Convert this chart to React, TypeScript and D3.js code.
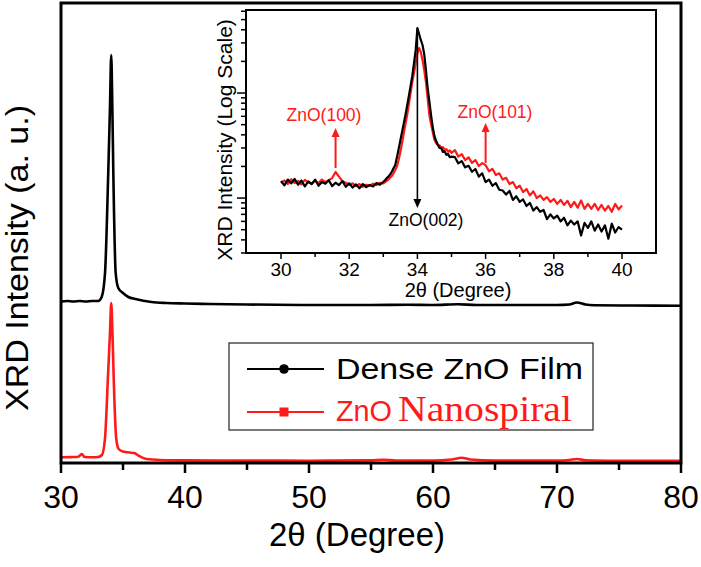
import React from "react";
import * as d3 from "d3";

// ---------- Main panel data (2θ, intensity a.u.) ----------
const mainBlackX = [30, 30.5, 31, 31.5, 32, 32.5, 33.0, 33.28, 33.55, 33.81, 33.95, 34.05, 34.14, 34.22, 34.41, 34.62, 35.0, 35.43, 36.0, 37.3, 38.5, 40, 42, 45, 50, 55, 58, 60, 62, 63.5, 66, 70, 71, 71.6, 72.3, 73, 76, 80];
const mainBlackY = [161.5, 162, 161.5, 162, 161.5, 162, 162, 166, 190, 290, 356, 408, 356, 290, 190, 175, 170, 166, 164, 161, 160, 159.5, 159, 158.5, 158, 158, 158.3, 158, 158.8, 158, 158, 158, 158.5, 160.5, 158.5, 157.8, 157.5, 157.3];
const mainRedX = [30, 30.8, 31.4, 31.67, 31.9, 32.5, 33.0, 33.3, 33.55, 33.8, 33.95, 34.05, 34.15, 34.25, 34.45, 34.65, 35.0, 35.5, 35.9, 36.3, 36.9, 38, 40, 45, 50, 55, 56, 57, 60, 61.5, 62.3, 63, 65, 70, 71, 71.6, 72.3, 75, 80];
const mainRedY = [5.7, 5.9, 6.2, 9, 6, 5.7, 6, 8, 25, 90, 130, 160, 130, 85, 25, 14, 11.5, 10.5, 10, 7, 4, 3, 2.6, 2.4, 2.3, 2.6, 3.3, 2.5, 2.4, 3.5, 5.3, 3.5, 2.4, 2.4, 3, 4, 2.8, 2.3, 2.2];
const mainXTicks = [30, 40, 50, 60, 70, 80];
const mainXMinor = [35, 45, 55, 65, 75];

// ---------- Inset data (2θ, log intensity) ----------
const insetX = [
  30.0, 30.1, 30.2, 30.3, 30.4, 30.5, 30.6, 30.7, 30.8, 30.9, 31.0, 31.1, 31.2, 31.3, 31.4, 31.5, 31.6, 31.7, 31.8, 31.9, 32.0, 32.1, 32.2, 32.3, 32.4, 32.5, 32.6, 32.7, 32.8, 32.9, 33.0,
  33.05, 33.1, 33.15, 33.2, 33.25, 33.3, 33.35, 33.4, 33.45, 33.5, 33.55, 33.6, 33.65, 33.7, 33.75, 33.8, 33.85, 33.9, 33.95, 34.0,
  34.05, 34.1, 34.15, 34.2, 34.25, 34.3, 34.35, 34.4, 34.45, 34.5, 34.55, 34.6, 34.65, 34.7, 34.75, 34.8, 34.85, 34.9, 34.95, 35.0,
  35.1, 35.2, 35.3, 35.4, 35.5, 35.6, 35.7, 35.8, 35.9, 36.0, 36.1, 36.2, 36.3, 36.4, 36.5, 36.6, 36.7, 36.8, 36.9, 37.0,
  37.1, 37.2, 37.3, 37.4, 37.5, 37.6, 37.7, 37.8, 37.9, 38.0, 38.1, 38.2, 38.3, 38.4, 38.5, 38.6, 38.7, 38.8, 38.9, 39.0,
  39.1, 39.2, 39.3, 39.4, 39.5, 39.6, 39.7, 39.8, 39.9, 40.0,
];
const insetBlack = [
  145, 132, 150, 138, 152, 134, 147, 129, 144, 136, 150, 131, 142, 137, 148, 130, 140, 133, 145, 128, 138, 126, 135, 124, 136, 127, 133, 129, 139, 134, 143,
  148, 155, 160, 168, 178, 192, 206, 245, 293, 353, 425, 512, 617, 760, 936, 1166, 1452, 1930, 2570, 4160,
  3646, 3200, 2865, 2350, 1656, 1116, 839, 617, 474, 389, 349, 320, 300, 298, 275, 278, 258, 262, 245, 248,
  245, 214, 225, 196, 203, 178, 189, 160, 172, 142, 150, 131, 139, 120, 118, 108, 117, 96, 104, 92,
  97, 84, 90, 76, 82, 74, 77, 63, 70, 64, 68, 60, 65, 55, 61, 56, 60, 44, 58, 52,
  60, 49, 56, 48, 55, 41, 57, 47, 53, 50,
];
const insetRed = [
  140, 147, 136, 151, 139, 146, 135, 149, 141, 137, 146, 139, 150, 142, 148, 155, 177, 160, 145, 140, 134, 138, 130, 136, 128, 134, 131, 137, 133, 140, 138,
  142, 146, 150, 156, 163, 172, 185, 200, 230, 274, 334, 411, 506, 617, 786, 1000, 1270, 1550, 1930, 2400,
  2680, 2460, 2060, 1656, 1270, 895, 617, 506, 425, 357, 334, 320, 318, 300, 305, 288, 292, 276, 284, 270,
  286, 248, 262, 230, 244, 216, 230, 202, 215, 206, 180, 190, 166, 172, 150, 156, 136, 142, 124, 131,
  114, 122, 106, 116, 100, 106, 96, 102, 92, 98, 88, 96, 86, 94, 82, 92, 81, 95, 79, 88,
  79, 88, 77, 86, 76, 84, 74, 88, 78, 85,
];
const insetXTicks = [30, 32, 34, 36, 38, 40];
const insetXMinor = [31, 33, 35, 37, 39];

const legendLabels = ["Dense ZnO Film", "ZnO", "Nanospiral"];

const SANS = "'Liberation Sans', Arial, Helvetica, sans-serif";
const SERIF = "'Liberation Serif', 'Times New Roman', serif";
const RED = "#ff1a1a";

export default function App() {
  // main scales
  const x = d3.scaleLinear().domain([30, 80]).range([61, 681]);
  const y = d3.scaleLinear().domain([0, 460]).range([463, 3]);
  const mainLine = d3
    .line<[number, number]>()
    .x((d) => x(d[0]))
    .y((d) => y(d[1]))
    .curve(d3.curveMonotoneX);
  const blackPts = mainBlackX.map((v, i) => [v, mainBlackY[i]] as [number, number]);
  const redPts = mainRedX.map((v, i) => [v, mainRedY[i]] as [number, number]);

  // inset scales
  const ix = d3.scaleLinear().domain([30, 40]).range([281, 622]);
  const iy = d3.scaleLog().domain([30, 6170]).range([253, 10]);
  const insetLine = d3
    .line<[number, number]>()
    .x((d) => ix(d[0]))
    .y((d) => iy(d[1]))
    .curve(d3.curveLinear);
  const iBlack = insetX.map((v, i) => [v, insetBlack[i]] as [number, number]);
  const iRed = insetX.map((v, i) => [v, insetRed[i]] as [number, number]);

  const logTicks: { v: number; major: boolean }[] = [];
  [10, 100, 1000].forEach((dec) => {
    for (let k = 1; k <= 9; k++) {
      const v = dec * k;
      if (v >= 30 && v <= 6170) logTicks.push({ v, major: k === 1 });
    }
  });

  const inset = { l: 246, t: 10, r: 656, b: 253 };

  const arrowUp = (cx: number, yTop: number) =>
    `M${cx - 4},${yTop + 9} L${cx},${yTop} L${cx + 4},${yTop + 9} Z`;
  const arrowDown = (cx: number, yBot: number) =>
    `M${cx - 4},${yBot - 9} L${cx},${yBot} L${cx + 4},${yBot - 9} Z`;

  return (
    <svg
      width={701}
      height={567}
      style={{ position: "fixed", left: 0, top: 0, background: "#fff" }}
      fontFamily={SANS}
    >
      <rect x={0} y={0} width={701} height={567} fill="#fff" />

      {/* main curves */}
      <path d={mainLine(blackPts) || ""} fill="none" stroke="#000" strokeWidth={2.6} strokeLinejoin="round" />
      <path d={mainLine(redPts) || ""} fill="none" stroke={RED} strokeWidth={2.6} strokeLinejoin="round" />

      {/* main x ticks */}
      {mainXTicks.map((t) => (
        <g key={"mt" + t}>
          <line x1={x(t)} x2={x(t)} y1={463} y2={473} stroke="#000" strokeWidth={2.5} />
          <text x={x(t)} y={508} fontSize={32} textAnchor="middle" fill="#000">
            {t}
          </text>
        </g>
      ))}
      {mainXMinor.map((t) => (
        <line key={"mm" + t} x1={x(t)} x2={x(t)} y1={463} y2={470} stroke="#000" strokeWidth={2.5} />
      ))}

      {/* main frame */}
      <rect x={61} y={3} width={620} height={460} fill="none" stroke="#000" strokeWidth={3} />

      {/* axis titles */}
      <text x={357} y={546} fontSize={33} textAnchor="middle" fill="#000">
        2θ (Degree)
      </text>
      <text
        transform="translate(28,258) rotate(-90)"
        fontSize={32}
        textAnchor="middle"
        fill="#000"
        textLength={306}
        lengthAdjust="spacingAndGlyphs"
      >
        XRD Intensity (a. u.)
      </text>

      {/* legend */}
      <rect x={229} y={343} width={364} height={87} fill="#fff" stroke="#333" strokeWidth={1.3} />
      <line x1={247} x2={324} y1={369} y2={369} stroke="#000" strokeWidth={2} />
      <circle cx={284} cy={369} r={4.8} fill="#000" />
      <text x={336} y={379} fontSize={30} fill="#000" textLength={247} lengthAdjust="spacingAndGlyphs">
        {legendLabels[0]}
      </text>
      <line x1={247} x2={324} y1={412} y2={412} stroke={RED} strokeWidth={2} />
      <rect x={279.5} y={407.5} width={9} height={9} fill={RED} />
      <text x={336} y={421} fontSize={30} fill={RED} textLength={56} lengthAdjust="spacingAndGlyphs">
        {legendLabels[1]}
      </text>
      <text
        x={398}
        y={421}
        fontSize={35}
        fill={RED}
        fontFamily={SERIF}
        textLength={174}
        lengthAdjust="spacingAndGlyphs"
      >
        {legendLabels[2]}
      </text>

      {/* inset */}
      <rect x={inset.l} y={inset.t} width={inset.r - inset.l} height={inset.b - inset.t} fill="#fff" />
      <clipPath id="insetClip">
        <rect x={inset.l} y={inset.t} width={inset.r - inset.l} height={inset.b - inset.t} />
      </clipPath>
      <g clipPath="url(#insetClip)">
        <path d={insetLine(iRed) || ""} fill="none" stroke={RED} strokeWidth={2.2} strokeLinejoin="round" />
        <path d={insetLine(iBlack) || ""} fill="none" stroke="#000" strokeWidth={2.2} strokeLinejoin="round" />
      </g>

      {/* inset y ticks (log) */}
      {logTicks.map((t) => (
        <line
          key={"ly" + t.v}
          x1={inset.l}
          x2={inset.l - (t.major ? 9 : 5)}
          y1={iy(t.v)}
          y2={iy(t.v)}
          stroke="#000"
          strokeWidth={1.5}
        />
      ))}
      {/* inset x ticks */}
      {insetXTicks.map((t) => (
        <g key={"it" + t}>
          <line x1={ix(t)} x2={ix(t)} y1={inset.b} y2={inset.b + 6} stroke="#000" strokeWidth={1.5} />
          <text x={ix(t)} y={276} fontSize={19} textAnchor="middle" fill="#000">
            {t}
          </text>
        </g>
      ))}
      {insetXMinor.map((t) => (
        <line key={"im" + t} x1={ix(t)} x2={ix(t)} y1={inset.b} y2={inset.b + 4} stroke="#000" strokeWidth={1.5} />
      ))}
      <rect
        x={inset.l}
        y={inset.t}
        width={inset.r - inset.l}
        height={inset.b - inset.t}
        fill="none"
        stroke="#000"
        strokeWidth={2}
      />
      <text x={458} y={297} fontSize={20} textAnchor="middle" fill="#000">
        2θ (Degree)
      </text>
      <text transform="translate(232,140) rotate(-90)" fontSize={21} textAnchor="middle" fill="#000">
        XRD Intensity (Log Scale)
      </text>

      {/* annotations */}
      <line x1={ix(31.6)} x2={ix(31.6)} y1={168} y2={134} stroke={RED} strokeWidth={2} />
      <path d={arrowUp(ix(31.6), 128)} fill={RED} />
      <text x={324} y={121} fontSize={17.5} textAnchor="middle" fill={RED}>
        ZnO(100)
      </text>
      <line x1={ix(36)} x2={ix(36)} y1={163} y2={129} stroke={RED} strokeWidth={2} />
      <path d={arrowUp(ix(36), 123)} fill={RED} />
      <text x={495} y={118} fontSize={17.5} textAnchor="middle" fill={RED}>
        ZnO(101)
      </text>
      <line x1={ix(34)} x2={ix(34)} y1={28} y2={202} stroke="#000" strokeWidth={1.6} />
      <path d={arrowDown(ix(34), 208)} fill="#000" />
      <text x={426} y={226} fontSize={17.5} textAnchor="middle" fill="#000">
        ZnO(002)
      </text>
    </svg>
  );
}
